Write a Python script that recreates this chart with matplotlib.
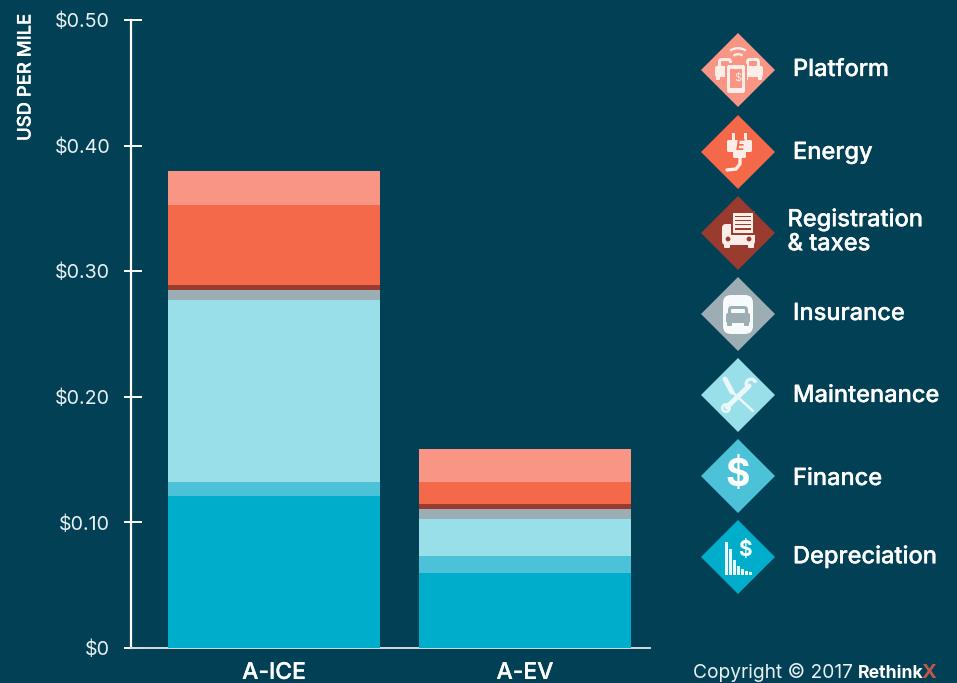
import matplotlib
matplotlib.use("Agg")
import matplotlib.pyplot as plt
import matplotlib.patheffects as pe
from matplotlib.patches import Polygon, Rectangle, Circle, Wedge, FancyBboxPatch

categories = ["A-ICE", "A-EV"]
series_names = ["Depreciation", "Finance", "Maintenance", "Insurance",
                "Registration\n& taxes", "Energy", "Platform"]
depreciation = [0.121, 0.060]
finance = [0.011, 0.0132]
maintenance = [0.145, 0.0298]
insurance = [0.008, 0.0077]
registration = [0.004, 0.0039]
energy = [0.064, 0.0176]
platform = [0.027, 0.026]
series_values = [depreciation, finance, maintenance, insurance, registration, energy, platform]
colors = ["#00AECC", "#4BC2D8", "#98DFEA", "#9CADB3", "#993B2F", "#F5694B", "#F99585"]
tick_values = [0, 0.1, 0.2, 0.3, 0.4, 0.5]
tick_labels = ["$0", "$0.10", "$0.20", "$0.30", "$0.40", "$0.50"]

BG = "#014055"
W, H = 957, 683
plt.rcParams["font.family"] = ["Inter", "DejaVu Sans"]
plt.rcParams["text.parse_math"] = False
THICK = [pe.withStroke(linewidth=0.2, foreground="white")]
fig = plt.figure(figsize=(W / 100, H / 100), dpi=100, facecolor=BG)
ax = fig.add_axes([131 / W, 1 - 648 / H, (650 - 131) / W, (648 - 20) / H], facecolor=BG)

bottom = [0.0, 0.0]
for vals, c in zip(series_values, colors):
    ax.bar([0, 1], vals, 0.845, bottom=bottom, color=c, linewidth=0, zorder=3)
    bottom = [b + v for b, v in zip(bottom, vals)]

ax.set_xlim(-0.57, 1.498)
ax.set_ylim(0, 0.5)
for s in ("top", "right"):
    ax.spines[s].set_visible(False)
ax.spines["left"].set_color("white")
ax.spines["left"].set_linewidth(1.6)
ax.spines["bottom"].set_color("#D5DADC")
ax.spines["bottom"].set_linewidth(1.4)
ax.set_xticks([0, 1])
ax.set_xticklabels(categories, fontsize=16.5, fontweight="medium", color="white")
ax.tick_params(axis="x", length=0, pad=10)
for t in ax.get_xticklabels():
    t.set_path_effects(THICK)
ax.set_yticks(tick_values)
ax.set_yticklabels(tick_labels, fontsize=14.2, color="#EAF0F2")
ax.tick_params(axis="y", direction="out", length=5, width=1.4, color="white", pad=10)
ax.yaxis.remove_overlapping_locs = False
ax.set_yticks(tick_values, minor=True)
ax.tick_params(axis="y", which="minor", direction="in", length=8, width=1.4, color="white")

fig.text(26 / W, 1 - 77.5 / H, "USD PER MILE", rotation=90, ha="center", va="center",
         fontsize=13.3, fontweight="medium", color="white", path_effects=THICK)

ov = fig.add_axes([0, 0, 1, 1], facecolor="none")
ov.set_xlim(0, W)
ov.set_ylim(H, 0)
ov.axis("off")

cx = 738
centers = [70, 152, 233, 314, 395, 476, 557]
label_y = [70, 153, None, 314, 396, 479, 557]
names_top = series_names[::-1]
cols_top = colors[::-1]
for cy, c in zip(centers, cols_top):
    ov.add_patch(Polygon([(cx, cy - 37), (cx + 37, cy), (cx, cy + 37), (cx - 37, cy)], color=c, lw=0))

for name, y in zip(names_top, label_y):
    if y is None:
        ov.text(787.5, 232, name, color="white", fontsize=17, fontweight="medium",
                va="center", ha="left", linespacing=1.12, path_effects=THICK)
    else:
        ov.text(793, y, name, color="white", fontsize=17, fontweight="medium", va="center",
                ha="left", path_effects=THICK)

ICON = "#FBEDE8"
def rect(x, y, w, h, c=ICON, r=1.5):
    ov.add_patch(FancyBboxPatch((x, y), w, h, boxstyle=f"round,pad=0,rounding_size={r}", fc=c, ec="none"))

# Platform: two cars, phone, signal arcs
pc = cols_top[0]
for x0 in (715, 743):
    rect(x0 + 3, 58, 14, 14, ICON, 4)
    rect(x0 + 6, 61, 8, 5, pc, 1)
    rect(x0, 66, 20, 11, ICON, 2)
    rect(x0 + 1, 76, 4, 4, ICON, 1)
    rect(x0 + 15, 76, 4, 4, ICON, 1)
rect(725, 63, 22, 32, pc, 2)
rect(727, 65, 18, 28, ICON, 2)
rect(730, 69, 12, 19, pc, 0.5)
ov.text(cx, 78.5, "$", color=ICON, fontsize=8, ha="center", va="center")
for r in (15, 9):
    ov.add_patch(Wedge((cx, 62), r, 235, 305, width=2.4, fc=ICON, ec="none"))

# Energy: plug and cord
rect(732, 133, 3, 8, ICON, 0.5)
rect(744, 133, 3, 8, ICON, 0.5)
rect(727, 140, 25, 12, ICON, 1.5)
rect(733, 151, 13, 7, ICON, 1.5)
ov.text(739.5, 146, "E", color=cols_top[1], fontsize=10, fontweight="bold", style="italic", ha="center", va="center")
ov.plot([740, 740, 736, 727], [157, 164, 169, 170], color=ICON, lw=2.4, solid_capstyle="round")

# Registration: car with document
rc = cols_top[2]
rect(722, 224, 33, 21, ICON, 4)
ov.add_patch(Circle((728, 239), 2.4, fc=rc, ec="none"))
ov.add_patch(Circle((749, 239), 2.4, fc=rc, ec="none"))
rect(724, 243, 6, 5, ICON, 1)
rect(748, 243, 6, 5, ICON, 1)
rect(731, 211, 24, 24, rc, 0.5)
rect(733, 213, 20, 20, ICON, 0.5)
for k in range(4):
    ov.add_patch(Rectangle((735, 215.5 + k * 4.2), 16, 1.6, fc=rc, ec="none"))

# Insurance: shield with car
cy = 314
sc = "#F7FAFA"
rect(cx - 15, cy - 19, 30, 39, sc, 8)
rect(cx - 10, cy - 8, 20, 13, cols_top[3], 4)
rect(cx - 12, cy - 1, 24, 10, cols_top[3], 2)
rect(cx - 11, cy + 8, 5, 4, cols_top[3], 1)
rect(cx + 6, cy + 8, 5, 4, cols_top[3], 1)
rect(cx - 7, cy - 5, 14, 4, sc, 1)

# Maintenance: crossed tools
tc = "#EAF8FA"
ov.plot([729, 753], [389, 411], color=tc, lw=1.8, solid_capstyle="round")
ov.plot([725, 732], [379, 392], color=tc, lw=3.6, solid_capstyle="round")
ov.plot([749, 727], [386, 407], color=tc, lw=3.6, solid_capstyle="round")
ov.add_patch(Wedge((751, 384), 6.5, 110, 345, width=3.4, fc=tc, ec="none"))
ov.add_patch(Wedge((726, 408), 5, 0, 360, width=2.6, fc=tc, ec="none"))

# Finance: dollar sign
ov.text(cx, 476, "$", color="white", fontsize=27, fontweight="bold", ha="center", va="center")

# Depreciation: falling bars and dollar sign
bars_h = [33, 26, 15, 9, 6, 4, 3]
for i, h in enumerate(bars_h):
    ov.add_patch(Rectangle((725 + i * 4, 575 - h), 3.4, h, fc="#E8F8FB", ec="none"))
ov.text(745, 550, "$", color="white", fontsize=15, fontweight="bold", ha="center", va="center")

# Copyright
ov.text(693, 673, "Copyright © 2017", color="#EAF0F2", fontsize=13.8, va="center", ha="left")
ov.text(858, 673, "Rethink", color="white", fontsize=12.7, fontweight="bold", va="center", ha="left")
ov.text(922, 673, "X", color="#C4574A", fontsize=14.5, fontweight="bold", va="center", ha="left")

fig.savefig("out.png", dpi=100, facecolor=BG)
